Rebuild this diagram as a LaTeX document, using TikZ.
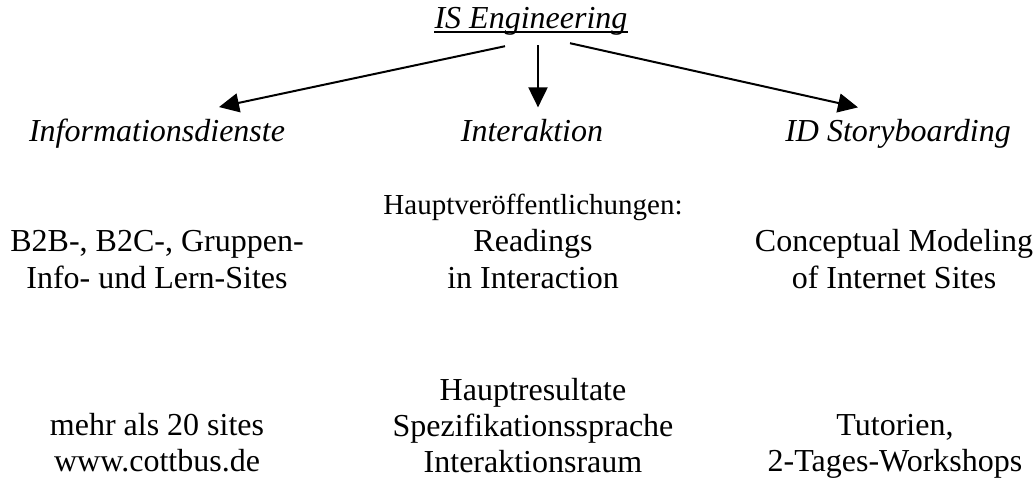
\documentclass[tikz,border=0pt]{standalone}
\usepackage{fontspec}
\setmainfont{Liberation Serif}
\usetikzlibrary{arrows.meta}
\tikzset{
    lbl/.style={
        font=\fontsize{16}{18}\selectfont,
        align=center, inner sep=0pt, anchor=base
    },
    head/.style={lbl, font=\fontsize{16}{18}\selectfont\itshape},
    small/.style={lbl, font=\fontsize{14.5}{17}\selectfont},
    >={Triangle[length=10pt,width=9.5pt]},
    arr/.style={line width=1pt,->},
}

\begin{document}
\begin{tikzpicture}[x=0.5pt,y=-0.5pt]
		\useasboundingbox (0,0) rectangle (1036,480);
		\node[head] (ise) at (531,29) {IS Engineering};
		\draw[line width=1pt] ([shift={(0,3)}]ise.base west) -- ([shift={(0,3)}]ise.base east);
		\foreach \x/\name/\txt in {157/info/Informationsdienste,532/inter/Interaktion,898/idsb/ID Storyboarding}
		\node[head] (\name) at (\x,142) {\txt};
		\draw[arr] ([shift={(-26,10)}]ise.south) -- ([shift={(62,-12)}]info.north);
		\draw[arr] ([shift={(7,9)}]ise.south) -- ([shift={(6,-12)}]inter.north);
		\draw[arr] ([shift={(39,7)}]ise.south) -- ([shift={(-40,-12)}]idsb.north);

		% multi-line nodes: base is the last line
		\node[small] (pub) at (533,215) {Hauptveröffentlichungen:};
		\node[lbl] (sites) at (157,288) {B2B-, B2C-, Gruppen-\\Info- und Lern-Sites};
		\node[lbl] (readings) at (533,288) {Readings\\in Interaction};
		\node[lbl] (cm) at (894,288) {Conceptual Modeling\\of Internet Sites};

		\node[lbl] (res) at (533,472) {Hauptresultate\\Spezifikationssprache\\Interaktionsraum};
		\node[lbl] (count) at (157,471) {mehr als 20 sites\\www.cottbus.de};
		\node[lbl] (tut) at (895,471) {Tutorien,\\2-Tages-Workshops};
	\end{tikzpicture}
\end{document}
